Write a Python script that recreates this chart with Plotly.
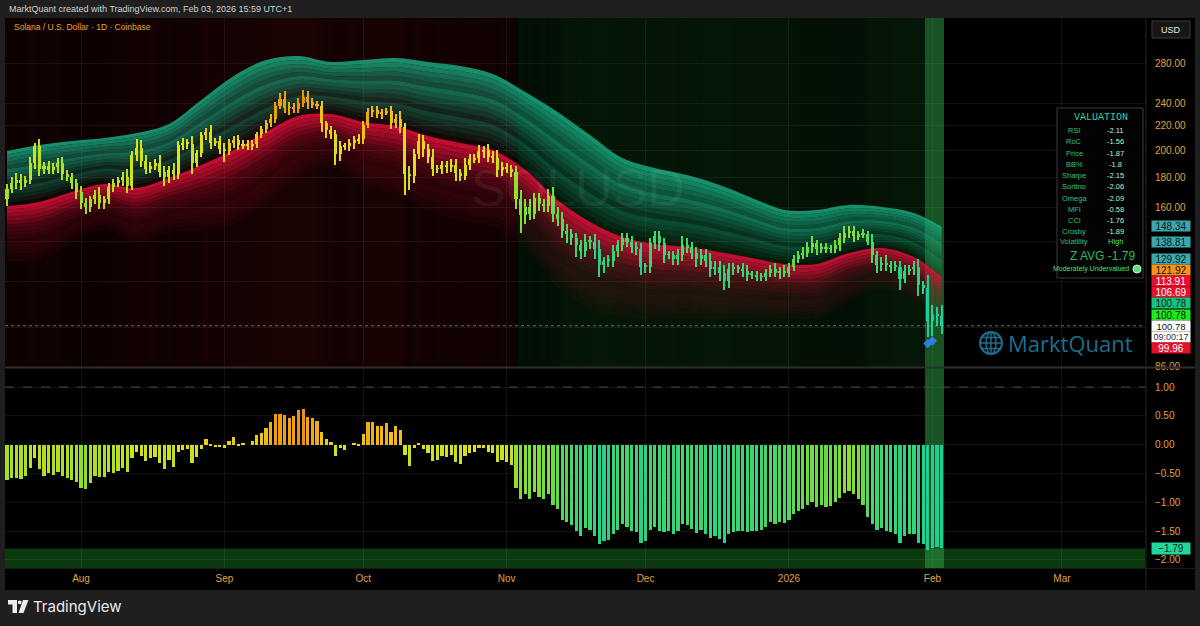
import numpy as np
import pandas as pd
import plotly.graph_objects as go

# ---------------- data ----------------
start_date = "2025-07-16"
first_open = 165.0
closes = [
    172, 176, 178, 176, 178, 190, 203, 186, 188, 185, 187, 190, 182, 180, 176, 170,
    163, 160, 165, 168, 163, 165, 173, 176, 178, 180, 174, 196, 202, 192, 186, 188, 190, 184, 180, 185,
    182, 204, 206, 205, 190, 198, 212, 215, 206, 207, 201,
    199, 206, 208, 204, 205, 203, 205, 213, 217, 222, 226, 238, 244, 236, 236, 235, 240, 246, 241, 239,
    238, 222, 216, 213, 197, 203, 203, 206, 208, 209,
    221, 232, 234, 230, 232, 233, 222, 226, 219, 182, 181, 197, 207, 201, 195, 186, 186, 189, 187, 189,
    183, 181, 189, 193, 194, 199, 200, 195, 194, 185, 187,
    186, 184, 165, 155, 160, 156, 166, 162, 161, 167, 156, 153, 146, 144, 142, 138, 135, 140, 140, 136,
    128, 130, 130, 135, 138, 142, 140, 137, 136, 127,
    127, 139, 143, 139, 133, 133, 131, 133, 138, 137, 134, 131, 133, 130, 126, 127, 124, 120, 126, 126,
    126, 125, 123, 123, 122, 122, 124, 126, 124, 125, 124,
    127, 131, 133, 134, 137, 139, 136, 137, 136, 136, 138, 142, 145, 146, 143, 144, 144, 140, 133, 128,
    129, 128, 127, 127, 121, 125, 126, 127, 118, 117, 102.5,
    105.5, 104.5, 100.78,
]
wick_hi = [
    3, 4, 5, 4, 3, 5, 3, 6, 3, 4, 3, 4, 5, 3, 3, 3,
    4, 3, 2, 3, 5, 2, 3, 3, 2, 4, 6, 3, 7, 6, 4, 3, 3, 6, 4, 3, 5, 3, 4, 3, 6, 2, 3, 3, 6, 3, 4,
    5, 3, 3, 4, 3, 3, 3, 2, 3, 3, 4, 3, 6, 8, 5, 4, 5, 7, 6, 4, 3, 4, 2, 4, 3, 4, 3, 3, 3, 4,
    3, 4, 4, 4, 3, 3, 5, 4, 7, 3, 6, 4, 6, 5, 4, 6, 3, 3, 3, 4, 4, 3, 5, 4, 3, 5, 3, 5, 4, 6, 4,
    3, 3, 4, 6, 5, 5, 3, 3, 3, 5, 6, 4, 4, 4, 3, 3, 3, 4, 3, 4, 5, 2, 3, 3, 3, 3, 3, 3, 3, 3,
    2, 3, 3, 3, 3, 2, 2, 3, 5, 4, 3, 3, 3, 3, 4, 3, 3, 4, 3, 3, 2, 3, 3, 2, 2, 2, 2, 2, 3, 2, 3,
    2, 2, 2, 3, 3, 4, 2, 2, 2, 2, 3, 3, 4, 3, 3, 2, 3, 2, 4, 2, 3, 4, 2, 3, 3, 3, 2, 3, 4, 2, 6,
    4, 3, 5,
]
wick_lo = [
    4, 3, 4, 5, 3, 3, 4, 5, 4, 3, 3, 4, 4, 3, 4, 5,
    4, 4, 3, 3, 4, 4, 3, 3, 3, 4, 5, 3, 4, 5, 4, 3, 3, 4, 6, 4, 4, 3, 4, 4, 8, 3, 3, 4, 5, 3, 4,
    8, 3, 4, 4, 3, 3, 3, 3, 3, 3, 3, 4, 3, 5, 7, 4, 4, 3, 6, 3, 3, 7, 6, 4, 8, 5, 3, 4, 5, 3,
    4, 3, 4, 3, 4, 3, 5, 4, 5, 14, 10, 5, 4, 6, 5, 5, 3, 4, 4, 3, 6, 4, 3, 4, 3, 4, 5, 4, 4, 5, 4,
    3, 4, 6, 10, 5, 4, 3, 4, 4, 4, 5, 4, 4, 5, 4, 6, 4, 3, 4, 5, 6, 4, 3, 3, 3, 3, 3, 3, 3, 4,
    3, 3, 3, 4, 4, 2, 3, 3, 3, 3, 3, 4, 3, 3, 4, 3, 4, 4, 3, 3, 2, 3, 3, 2, 2, 2, 2, 2, 2, 3, 2,
    2, 2, 2, 2, 2, 3, 3, 2, 2, 2, 2, 3, 3, 3, 3, 2, 2, 2, 4, 4, 3, 3, 3, 2, 5, 2, 2, 3, 5, 3, 6,
    5.5, 4, 3,
]
osc = [
    -0.62, -0.58, -0.58, -0.60, -0.55, -0.41, -0.24, -0.43, -0.54, -0.49,
    -0.52, -0.48, -0.55, -0.58, -0.61, -0.65, -0.75, -0.77, -0.67, -0.55,
    -0.56, -0.56, -0.48, -0.50, -0.45, -0.41, -0.48, -0.24, -0.12, -0.20,
    -0.29, -0.23, -0.22, -0.32, -0.43, -0.26, -0.38, -0.12, -0.09, -0.08,
    -0.32, -0.22, -0.08, 0.10, -0.03, -0.04, -0.04, -0.06, 0.07, 0.13,
    -0.01, 0.02, 0.00, 0.07, 0.17, 0.20, 0.29, 0.39, 0.54, 0.54,
    0.52, 0.46, 0.50, 0.61, 0.62, 0.48, 0.46, 0.41, 0.22, 0.10,
    0.05, -0.20, -0.06, -0.10, 0.00, 0.02, -0.02, 0.19, 0.40, 0.40,
    0.32, 0.33, 0.38, 0.22, 0.33, 0.26, -0.18, -0.37, -0.05, 0.03,
    -0.08, -0.15, -0.28, -0.26, -0.20, -0.22, -0.18, -0.30, -0.33, -0.20,
    -0.14, -0.12, -0.06, -0.05, -0.12, -0.14, -0.30, -0.26, -0.30, -0.35,
    -0.75, -0.95, -0.85, -0.95, -0.82, -0.90, -0.95, -0.85, -1.05, -1.12,
    -1.30, -1.35, -1.40, -1.50, -1.58, -1.45, -1.48, -1.58, -1.72, -1.68,
    -1.66, -1.55, -1.48, -1.38, -1.42, -1.50, -1.52, -1.70, -1.68, -1.48,
    -1.42, -1.50, -1.52, -1.50, -1.55, -1.50, -1.38, -1.40, -1.47, -1.53,
    -1.48, -1.55, -1.62, -1.58, -1.63, -1.70, -1.55, -1.52, -1.50, -1.50,
    -1.52, -1.50, -1.50, -1.48, -1.42, -1.35, -1.38, -1.35, -1.36, -1.30,
    -1.20, -1.15, -1.12, -1.05, -1.00, -1.08, -1.05, -1.08, -1.06, -1.00,
    -0.92, -0.84, -0.81, -0.86, -0.95, -1.05, -1.25, -1.38, -1.48, -1.45,
    -1.50, -1.52, -1.55, -1.70, -1.58, -1.55, -1.55, -1.70, -1.72, -1.83,
    -1.80, -1.77, -1.79,
]
band_days = [0, 7, 14, 21, 28, 35, 42, 49, 56, 63, 70, 77, 84, 91, 98, 105, 112, 119,
             126, 133, 140, 147, 154, 161, 168, 175, 182, 189, 196, 202]
band_mid = [160.8, 163.4, 169.9, 175.3, 172.6, 179.4, 188.7, 200.1, 214.8, 228.6, 230.4, 223.3,
            219.8, 211.4, 205.7, 200.1, 185.2, 164.7, 151.2, 142.5, 138.7, 137.1, 134.4, 131.3,
            128.3, 128.3, 133.9, 136.5, 131.8, 121.92]
band_top = [199.4, 204.1, 207.3, 209.8, 213.9, 221.6, 243.3, 267.2, 284.4, 288.9, 282.2, 284.4,
            286.6, 282.2, 277.8, 269.3, 251.0, 232.2, 212.2, 194.0, 186.6, 181.5, 174.6, 166.0,
            158.4, 158.4, 161.5, 160.2, 156.5, 148.34]
signal_days = [199, 200]
signal_prices = [94.0, 95.0]

price_ticks = [86, 100, 120, 140, 160, 180, 200, 220, 240, 280]
osc_ticks = [1.0, 0.5, 0.0, -0.5, -1.0, -1.5, -2.0]
month_ticks = ["2025-08-01", "2025-09-01", "2025-10-01", "2025-11-01", "2025-12-01",
               "2026-01-01", "2026-02-01", "2026-03-01"]
month_labels = ["Aug", "Sep", "Oct", "Nov", "Dec", "2026", "Feb", "Mar"]

scale_labels = ["148.34", "138.81", "129.92", "121.92", "113.91", "106.69", "100.78", "100.78"]
scale_bg = ["#3ba7aa", "#3ba7aa", "#3ba7aa", "#f7931a", "#e5102c", "#e5102c", "#19c37f", "#1fe81f"]
scale_fg = ["#06191a", "#06191a", "#06191a", "#111111", "#ffffff", "#ffffff", "#07211a", "#062006"]
scale_ypx = [226.5, 242, 258.5, 270, 281, 292, 303, 314.5]
last_price_label = "100.78"
countdown = "09:00:17"
low_band_label = "99.96"
osc_last_label = "\u22121.79"

val_names = ["RSI", "RoC", "Price", "BB%", "Sharpe", "Sortino", "Omega", "MFI", "CCI", "Crosby", "Volatility"]
val_values = ["-2.11", "-1.56", "-1.87", "-1.8", "-2.15", "-2.06", "-2.09", "-0.58", "-1.76", "-1.89", "High"]
z_avg_text = "Z AVG -1.79"
verdict_text = "Moderately Undervalued"

# ---------------- geometry helpers ----------------
PX_PER_DAY = 4.627


def px(x):
    return (x - 5) / 1140.0


def py(y):
    return (590 - y) / 572.0


FONT = "Liberation Sans"
ORANGE = "#e0a040"

d0 = pd.Timestamp(start_date)
n = len(closes)
dates = pd.date_range(start_date, periods=n, freq="D")
x_left = d0 + pd.Timedelta(days=(5 - 7) / PX_PER_DAY)
x_right = d0 + pd.Timedelta(days=(1145 - 7) / PX_PER_DAY)
DAY_MS = 86400000

stops = [(-2.0, (16, 200, 168)), (-1.6, (46, 214, 126)), (-1.1, (98, 220, 72)),
         (-0.6, (172, 223, 34)), (-0.1, (223, 226, 26)), (0.3, (242, 187, 18)),
         (0.7, (236, 138, 12))]


def osc_rgb(v):
    if v <= stops[0][0]:
        c = stops[0][1]
    elif v >= stops[-1][0]:
        c = stops[-1][1]
    else:
        for (a, ca), (b, cb) in zip(stops[:-1], stops[1:]):
            if a <= v <= b:
                t = (v - a) / (b - a)
                c = tuple(ca[i] + (cb[i] - ca[i]) * t for i in range(3))
                break
    return "rgb(%d,%d,%d)" % tuple(int(round(k)) for k in c)


def bg_color(v):
    if v <= -1.75:
        return "rgba(45,165,70,0.5)"
    if v < -0.8:
        a = 0.13 + 0.08 * min(1.0, (-0.8 - v) / 0.9)
        return "rgba(20,110,30,%.3f)" % a
    a = 0.09 + 0.13 * float(np.clip((v + 0.8) / 1.4, 0, 1))
    return "rgba(125,14,12,%.3f)" % a


opens = [first_open] + closes[:-1]
highs = [max(o, c) + w for o, c, w in zip(opens, closes, wick_hi)]
lows = [min(o, c) - w for o, c, w in zip(opens, closes, wick_lo)]
cols = [osc_rgb(v) for v in osc]

fig = go.Figure()

# background columns (price pane)
fig.add_trace(go.Bar(x=dates, y=[900] * n, base=[60] * n, width=DAY_MS,
                     marker=dict(color=[bg_color(v) for v in osc], line=dict(width=0)),
                     xaxis="x", yaxis="y", hoverinfo="skip"))

# valuation bands with layered gradient
bdates = d0 + pd.to_timedelta(band_days, unit="D")
mid = np.array(band_mid)
top = np.array(band_top)
step = (top / mid) ** (1.0 / 3.0)
levels = np.round(np.arange(-3, 3.0001, 0.2), 6)
ranges = {-3: (0.04, 0.16, "215,15,55"), -2: (0.10, 0.32, "215,15,55"),
          -1: (0.36, 0.94, "215,15,55"), 0: (0.0, 0.40, "25,170,130"),
          1: (0.16, 0.64, "25,170,130"), 2: (0.38, 0.88, "25,170,130")}
for k, lv in enumerate(levels):
    yline = mid * step ** lv
    kw = {}
    if k > 0:
        nm = lv - 0.1
        layer = int(np.floor(nm))
        t = nm - layer
        a0, a1, rgb = ranges[layer]
        kw = dict(fill="tonexty", fillcolor="rgba(%s,%.3f)" % (rgb, a0 + (a1 - a0) * t))
    fig.add_trace(go.Scatter(x=bdates, y=yline, mode="lines",
                             line=dict(width=0, shape="spline", smoothing=1.0),
                             xaxis="x", yaxis="y", hoverinfo="skip", **kw))

# candles (overlay axis so they sit above the band fills)
fig.add_trace(go.Bar(x=dates, y=[h - l for h, l in zip(highs, lows)], base=lows,
                     width=DAY_MS * 0.24, marker=dict(color=cols, line=dict(width=0)),
                     xaxis="x", yaxis="y2", hoverinfo="skip"))
fig.add_trace(go.Bar(x=dates, y=[max(abs(c - o), 0.35) for o, c in zip(opens, closes)],
                     base=[min(o, c) for o, c in zip(opens, closes)],
                     width=DAY_MS * 0.66, marker=dict(color=cols, line=dict(width=0)),
                     xaxis="x", yaxis="y2", hoverinfo="skip"))
fig.add_trace(go.Scatter(x=[x_left, x_right], y=[closes[-1], closes[-1]], mode="lines",
                         line=dict(color="rgba(150,150,150,0.7)", width=1, dash="dot"),
                         xaxis="x", yaxis="y2", hoverinfo="skip"))
fig.add_trace(go.Scatter(x=[dates[i] for i in signal_days], y=signal_prices, mode="markers",
                         marker=dict(symbol="diamond", size=7, color="#2f7fe6", line=dict(width=0)),
                         xaxis="x", yaxis="y2", hoverinfo="skip"))

# oscillator pane
hl = [v <= -1.75 for v in osc]
fig.add_trace(go.Bar(x=[d for d, h in zip(dates, hl) if h], y=[4] * sum(hl), base=[-2.5] * sum(hl),
                     width=DAY_MS, marker=dict(color="rgba(45,165,70,0.5)", line=dict(width=0)),
                     xaxis="x", yaxis="y3", hoverinfo="skip"))
fig.add_trace(go.Bar(x=dates, y=osc, width=DAY_MS * 0.7,
                     marker=dict(color=cols, line=dict(width=0)),
                     xaxis="x", yaxis="y3", hoverinfo="skip"))

grid = "rgba(255,255,255,0.07)"
prange = [np.log10(85.8), np.log10(335.0)]

fig.update_layout(
    width=1200, height=626,
    margin=dict(l=5, r=55, t=18, b=36),
    paper_bgcolor="#1f1f1f", plot_bgcolor="#000000",
    showlegend=False, barmode="overlay", bargap=0,
    font=dict(family=FONT, size=10, color=ORANGE),
    xaxis=dict(type="date", range=[x_left, x_right], anchor="y3",
               tickvals=month_ticks, ticktext=month_labels,
               tickfont=dict(color=ORANGE, size=10, family=FONT),
               showgrid=True, gridcolor=grid, zeroline=False, showline=False,
               ticks="", ticklabelstandoff=3, fixedrange=True),
    yaxis=dict(domain=[py(367), 1.0], type="log", range=prange, side="right", anchor="x",
               tickvals=price_ticks, ticktext=["%.2f" % v for v in price_ticks],
               tickfont=dict(color=ORANGE, size=10, family=FONT),
               showgrid=True, gridcolor=grid, zeroline=False, showline=False,
               ticks="", ticklabelstandoff=9, fixedrange=True),
    yaxis2=dict(overlaying="y", type="log", range=prange, side="right", anchor="x",
                showticklabels=False, showgrid=False, zeroline=False, showline=False,
                ticks="", fixedrange=True),
    yaxis3=dict(domain=[py(568), py(368)], range=[-2.14, 1.33], side="right", anchor="x",
                tickvals=osc_ticks,
                ticktext=[("%.2f" % v).replace("-", "\u2212") for v in osc_ticks],
                tickfont=dict(color=ORANGE, size=10, family=FONT),
                showgrid=True, gridcolor=grid, zeroline=False, showline=False,
                ticks="", ticklabelstandoff=9, fixedrange=True),
)

shapes = []
# black chart frame incl. price scale + time scale
shapes.append(dict(type="rect", xref="paper", yref="paper", x0=0, x1=px(1195), y0=0, y1=1,
                   fillcolor="#000000", line=dict(width=0), layer="below"))
# pane separator + scale separator
shapes.append(dict(type="line", xref="paper", yref="paper", x0=0, x1=px(1195), y0=py(367.5), y1=py(367.5),
                   line=dict(color="#2e2e2e", width=2)))
shapes.append(dict(type="line", xref="paper", yref="paper", x0=px(1146), x1=px(1146), y0=0, y1=1,
                   line=dict(color="#262626", width=1)))
shapes.append(dict(type="line", xref="paper", yref="paper", x0=0, x1=px(1195), y0=py(568.5), y1=py(568.5),
                   line=dict(color="#1a1a1a", width=1)))
# oscillator extreme zone and +1 dashed level
shapes.append(dict(type="rect", xref="paper", yref="y3", x0=0, x1=1, y0=-2.14, y1=-1.8,
                   fillcolor="#0a3a0e", line=dict(width=0), layer="below"))
shapes.append(dict(type="line", xref="paper", yref="y3", x0=0, x1=1, y0=1.0, y1=1.0,
                   line=dict(color="#4a4a4a", width=1, dash="dash")))
# valuation box
shapes.append(dict(type="rect", xref="paper", yref="paper", x0=px(1057), x1=px(1143), y0=py(278), y1=py(108),
                   fillcolor="#030303", line=dict(color="#3a3a3a", width=1)))
# USD button
shapes.append(dict(type="rect", xref="paper", yref="paper", x0=px(1152), x1=px(1190), y0=py(38), y1=py(21),
                   fillcolor="#161616", line=dict(color="#3a3a3a", width=1)))
# MarktQuant globe
gc = "#1f6d8a"
shapes.append(dict(type="circle", xref="paper", yref="paper", x0=px(980), x1=px(1002), y0=py(354), y1=py(332),
                   line=dict(color=gc, width=2)))
shapes.append(dict(type="circle", xref="paper", yref="paper", x0=px(986), x1=px(996), y0=py(354), y1=py(332),
                   line=dict(color=gc, width=1.5)))
for yy in (337.5, 343, 348.5):
    shapes.append(dict(type="line", xref="paper", yref="paper", x0=px(981), x1=px(1001), y0=py(yy), y1=py(yy),
                       line=dict(color=gc, width=1.5)))
shapes.append(dict(type="line", xref="paper", yref="paper", x0=px(991), x1=px(991), y0=py(354), y1=py(332),
                   line=dict(color=gc, width=1.5)))


# TradingView logo mark
def pth(pts):
    return "M " + " L ".join("%.5f,%.5f" % (px(a), py(b)) for a, b in pts) + " Z"


shapes.append(dict(type="path", xref="paper", yref="paper",
                   path=pth([(8, 600), (17, 600), (17, 613), (12.5, 613), (12.5, 604.5), (8, 604.5)]),
                   fillcolor="#ececec", line=dict(width=0)))
shapes.append(dict(type="circle", xref="paper", yref="paper", x0=px(17.8), x1=px(21.6), y0=py(604.2), y1=py(600.4),
                   fillcolor="#ececec", line=dict(width=0)))
shapes.append(dict(type="path", xref="paper", yref="paper",
                   path=pth([(23, 600), (28.5, 600), (23.5, 613), (18.5, 613)]),
                   fillcolor="#ececec", line=dict(width=0)))

annotations = []


def ann(xp, yp, text, size=10, color="#ffffff", xanchor="left", yanchor="middle", family=FONT, **kw):
    annotations.append(dict(x=px(xp), y=py(yp), xref="paper", yref="paper", text=text, showarrow=False,
                            xanchor=xanchor, yanchor=yanchor,
                            font=dict(size=size, color=color, family=family), **kw))


ann(7, 9, "MarktQuant created with TradingView.com, Feb 03, 2026 15:59 UTC+1", size=9, color="#d2d2d2")
ann(12, 27, "Solana / U.S. Dollar \u00b7 1D \u00b7 Coinbase", size=8.5, color="#e8a23a")
ann(578, 188, "SOLUSD", size=52, color="rgba(255,255,255,0.06)", xanchor="center")
ann(1171, 29.5, "USD", size=9, color="#e6e6e6", xanchor="center")
ann(1006, 343, "MarktQuant", size=22, color=gc, family="Open Sans")
ann(31, 606, "TradingView", size=15, color="#ececec", family="Inter")

# price-scale labels
for txt, bgc, fgc, yv in zip(scale_labels, scale_bg, scale_fg, scale_ypx):
    ann(1151, yv, txt, size=10, color=fgc, bgcolor=bgc, width=38, height=10, align="center", borderpad=0)
ann(1151, 325.5, last_price_label, size=9.5, color="#111111", bgcolor="#ffffff",
    width=38, height=10, align="center", borderpad=0)
ann(1151, 336.5, countdown, size=9, color="#333333", bgcolor="#ffffff",
    width=38, height=10, align="center", borderpad=0)
ann(1151, 347.5, low_band_label, size=10, color="#ffffff", bgcolor="#e5102c", width=38, height=10,
    align="center", borderpad=0)
ann(1151, 548, osc_last_label, size=10, color="#06231a", bgcolor="#20d69a", width=38, height=11,
    align="center", borderpad=0)

# valuation table
ann(1101, 118, "VALUATION", size=10, color="#3ccfa0", xanchor="center", family="Liberation Mono")
row_y = [130, 141.5, 153, 164.5, 175.8, 187, 198, 209, 220.3, 231.3, 242]
for nm_, vv, yy in zip(val_names, val_values, row_y):
    ann(1074, yy, nm_, size=7.5, color="#33c27c", xanchor="center")
    ann(1115, yy, vv, size=7.5, color="#4ee070" if vv == "High" else "#bdf2c8", xanchor="center")
ann(1102, 256, z_avg_text, size=12, color="#2cb85c", xanchor="center")
ann(1131, 269, verdict_text, size=7, color="#46e06c", xanchor="right")
shapes.append(dict(type="circle", xref="paper", yref="paper", x0=px(1133), x1=px(1141), y0=py(273), y1=py(265),
                   fillcolor="#5fe07f", line=dict(color="#c8f5d0", width=1)))

fig.update_layout(shapes=shapes, annotations=annotations)
fig.write_html("out.html", config={"displayModeBar": False},
               post_script="document.body.style.margin='0';document.body.style.background='#1f1f1f';")
